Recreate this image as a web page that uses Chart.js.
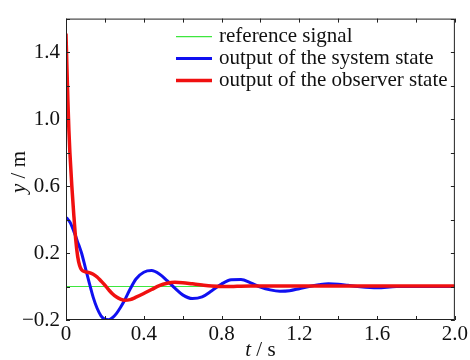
<!DOCTYPE html>
<html>
<head>
<meta charset="utf-8">
<script src="https://cdn.jsdelivr.net/npm/chart.js@4.4.1/dist/chart.umd.min.js"></script>
<style>
  html, body { margin: 0; padding: 0; background: #fff; }
  #wrap { width: 470px; height: 360px; }
</style>
</head>
<body>
<div id="wrap"><canvas id="stateChart" width="470" height="360"></canvas></div>
<script>

// =========================
// DATA
// =========================

const time = [
    0, 0.005, 0.01, 0.015, 0.02, 0.03, 0.04, 0.05, 0.06, 0.07,
    0.08, 0.10, 0.12, 0.14, 0.16, 0.18, 0.20, 0.22, 0.24, 0.26,
    0.28, 0.30, 0.33, 0.36, 0.40, 0.44, 0.48, 0.52, 0.56, 0.60,
    0.65, 0.70, 0.75, 0.80, 0.85, 0.90, 0.95, 1.00, 1.05, 1.10,
    1.15, 1.20, 1.25, 1.30, 1.35, 1.40, 1.45, 1.50, 1.60, 1.70,
    1.80, 1.90, 2.00
];

const systemState = [
    0.41, 0.408, 0.40, 0.393, 0.385, 0.36, 0.33, 0.30, 0.265, 0.235,
    0.20, 0.11, 0.02, -0.065, -0.13, -0.175, -0.195, -0.198, -0.185, -0.16,
    -0.125, -0.085, -0.015, 0.045, 0.085, 0.095, 0.075, 0.035, -0.01, -0.05,
    -0.072, -0.062, -0.025, 0.015, 0.04, 0.042, 0.022, -0.003, -0.02, -0.028,
    -0.025, -0.013, 0.0, 0.01, 0.016, 0.014, 0.007, 0.0, -0.008, 0.0,
    0.0, 0.0, 0.0
];

const observerState = [
    1.51, 1.30, 1.10, 0.93, 0.80, 0.60, 0.43, 0.28, 0.18, 0.125,
    0.10, 0.088, 0.083, 0.073, 0.057, 0.033, 0.008, -0.02, -0.045, -0.063,
    -0.075, -0.082, -0.078, -0.064, -0.042, -0.018, 0.005, 0.019, 0.025, 0.023,
    0.016, 0.009, 0.003, 0.0, 0.0, 0.002, 0.003, 0.003, 0.003, 0.003,
    0.003, 0.003, 0.003, 0.003, 0.003, 0.003, 0.003, 0.003, 0.003, 0.003,
    0.003, 0.003, 0.003
];

const refTime = [0, 2.0];
const refSignal = [0, 0];

const seriesNames = [
    'reference signal',
    'output of the system state',
    'output of the observer state'
];

const xTickLabels = [0, 0.4, 0.8, 1.2, 1.6, 2.0];
const yTickLabels = [-0.2, 0.2, 0.6, 1.0, 1.4];

// =========================
// HELPERS
// =========================

const serif = "'Liberation Serif', 'Times New Roman', serif";

function toPoints(xs, ys){
    return xs.map((x, i) => ({ x: x, y: ys[i] }));
}

function fmt(v){
    if (Math.abs(v) < 1e-9) return '0';
    const s = Math.abs(v).toFixed(1);
    return v < 0 ? '\u2212' + s : s;
}

function isLabelled(v, list){
    return list.some(l => Math.abs(l - v) < 1e-6);
}

// =========================
// FRAME, TICKS, TITLES, LEGEND
// =========================

const framePlugin = {
    id: 'frame',
    afterDraw(chart){
        const ctx = chart.ctx;
        const a = chart.chartArea;
        const xs = chart.scales.x;
        const ys = chart.scales.y;
        const tick = 4;

        ctx.save();
        ctx.strokeStyle = '#222';
        ctx.lineWidth = 1;
        ctx.strokeRect(a.left + 0.5, a.top + 0.5, a.right - a.left - 1, a.bottom - a.top - 1);

        ctx.beginPath();
        xs.ticks.forEach(t => {
            const px = Math.round(xs.getPixelForValue(t.value)) + 0.5;
            ctx.moveTo(px, a.bottom);
            ctx.lineTo(px, a.bottom - tick);
            ctx.moveTo(px, a.top);
            ctx.lineTo(px, a.top + tick);
        });
        ys.ticks.forEach(t => {
            const py = Math.round(ys.getPixelForValue(t.value)) + 0.5;
            ctx.moveTo(a.left, py);
            ctx.lineTo(a.left + tick, py);
            ctx.moveTo(a.right, py);
            ctx.lineTo(a.right - tick, py);
        });
        ctx.stroke();

        // axis titles: italic symbol, upright unit
        ctx.fillStyle = '#111';
        ctx.textBaseline = 'middle';

        const drawTitle = (sym, unit, cx, cy, rot) => {
            ctx.save();
            ctx.translate(cx, cy);
            ctx.rotate(rot);
            ctx.font = 'italic 21px ' + serif;
            const w1 = ctx.measureText(sym).width;
            ctx.font = '21px ' + serif;
            const w2 = ctx.measureText(unit).width;
            let x0 = -(w1 + w2) / 2;
            ctx.textAlign = 'left';
            ctx.font = 'italic 21px ' + serif;
            ctx.fillText(sym, x0, 0);
            ctx.font = '21px ' + serif;
            ctx.fillText(unit, x0 + w1, 0);
            ctx.restore();
        };

        drawTitle('t', ' / s', (a.left + a.right) / 2, 350, 0);
        drawTitle('y', ' / m', 19, 172, -Math.PI / 2);

        // legend inside the plot
        const lx = a.left + 110;
        const rowY = [a.top + 18, a.top + 40, a.top + 62];
        ctx.font = '21px ' + serif;
        ctx.textAlign = 'left';
        chart.data.datasets.forEach((ds, i) => {
            const y = rowY[i];
            ctx.strokeStyle = ds.borderColor;
            ctx.lineWidth = ds.borderWidth;
            ctx.beginPath();
            ctx.moveTo(lx, y);
            ctx.lineTo(lx + 36, y);
            ctx.stroke();
            ctx.fillStyle = '#111';
            ctx.fillText(ds.label, lx + 43, y);
        });

        ctx.restore();
    }
};

// =========================
// CHART
// =========================

const stateCtx = document.getElementById('stateChart');

new Chart(stateCtx, {

    type: 'line',

    data: {
        datasets: [
            {
                label: seriesNames[0],
                data: toPoints(refTime, refSignal),
                borderColor: '#3ee63e',
                borderWidth: 1.2,
                pointRadius: 0,
                order: 2
            },
            {
                label: seriesNames[1],
                data: toPoints(time, systemState),
                borderColor: '#1010f0',
                borderWidth: 3,
                pointRadius: 0,
                cubicInterpolationMode: 'monotone',
                order: 1
            },
            {
                label: seriesNames[2],
                data: toPoints(time, observerState),
                borderColor: '#f01010',
                borderWidth: 3.5,
                pointRadius: 0,
                cubicInterpolationMode: 'monotone',
                order: 0
            }
        ]
    },

    options: {
        responsive: false,
        animation: false,
        layout: {
            padding: { top: 13, right: 13, left: 0, bottom: 0 }
        },
        plugins: {
            legend: { display: false },
            tooltip: { enabled: false }
        },
        scales: {
            x: {
                type: 'linear',
                min: 0,
                max: 2.0,
                grid: { display: false, drawTicks: false },
                border: { display: false },
                ticks: {
                    stepSize: 0.2,
                    autoSkip: false,
                    maxRotation: 0,
                    padding: 2,
                    color: '#111',
                    font: { family: serif, size: 21 },
                    callback: v => isLabelled(v, xTickLabels) ? fmt(v) : ''
                },
                afterFit(scale){ scale.height = 40; }
            },
            y: {
                type: 'linear',
                min: -0.2,
                max: 1.6,
                grid: { display: false, drawTicks: false },
                border: { display: false },
                ticks: {
                    stepSize: 0.2,
                    autoSkip: false,
                    padding: 6,
                    color: '#111',
                    font: { family: serif, size: 21 },
                    callback: v => isLabelled(v, yTickLabels) ? fmt(v) : ''
                },
                afterFit(scale){ scale.width = 66; }
            }
        }
    },

    plugins: [framePlugin]

});

</script>
</body>
</html>
